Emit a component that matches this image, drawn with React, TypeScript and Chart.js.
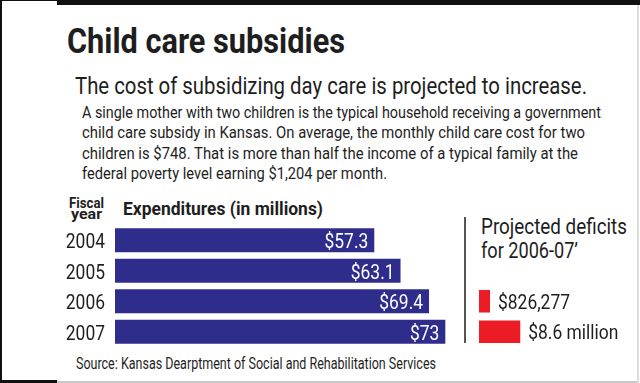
import React, { useEffect, useLayoutEffect, useRef } from "react";
import { Chart, registerables } from "chart.js";

Chart.register(...registerables);

const years = ["2004", "2005", "2006", "2007"];
const expenditures = [57.3, 63.1, 69.4, 73];
const expenditureLabels = ["$57.3", "$63.1", "$69.4", "$73"];

const deficitCategories = ["Low", "High"];
const deficits = [0.826277, 8.6];
const deficitLabels = ["$826,277", "$8.6 million"];

const FONT = 'Roboto, "Noto Sans", sans-serif';
const NAVY = "#2e2d8c";
const RED = "#ec1c24";
const INK = "#1e1e1e";
const CONDENSE = 0.83;

function drawCondensed(ctx: any, s: string, x: number, y: number, align: string) {
  ctx.save();
  ctx.translate(x, y);
  ctx.scale(CONDENSE, 1);
  ctx.textAlign = align;
  ctx.textBaseline = "alphabetic";
  ctx.fillText(s, 0, 0);
  ctx.restore();
}

const expenditurePlugin = {
  id: "expenditureText",
  afterDatasetsDraw(chart: any) {
    const { ctx, chartArea } = chart;
    const meta = chart.getDatasetMeta(0);
    const yScale = chart.scales.y;
    ctx.save();
    ctx.font = `21px ${FONT}`;
    ctx.fillStyle = "#ffffff";
    meta.data.forEach((bar: any, i: number) => {
      drawCondensed(ctx, expenditureLabels[i], bar.x - 6, bar.y + 8, "right");
    });
    ctx.fillStyle = INK;
    yScale.ticks.forEach((_t: any, i: number) => {
      drawCondensed(ctx, String(chart.data.labels[i]), chartArea.left - 10, yScale.getPixelForTick(i) + 8, "right");
    });
    ctx.restore();
  },
};

const deficitPlugin = {
  id: "deficitText",
  afterDatasetsDraw(chart: any) {
    const { ctx } = chart;
    const meta = chart.getDatasetMeta(0);
    ctx.save();
    ctx.font = `21px ${FONT}`;
    ctx.fillStyle = INK;
    meta.data.forEach((bar: any, i: number) => {
      drawCondensed(ctx, deficitLabels[i], bar.x + 8, bar.y + 7.5, "left");
    });
    ctx.restore();
  },
};

function ExpenditureChart() {
  const ref = useRef<HTMLCanvasElement>(null);
  useEffect(() => {
    const chart = new Chart(ref.current!, {
      type: "bar",
      data: {
        labels: years,
        datasets: [
          {
            data: expenditures,
            backgroundColor: NAVY,
            categoryPercentage: 1,
            barPercentage: 0.79,
          },
        ],
      },
      options: {
        indexAxis: "y",
        animation: false,
        responsive: false,
        maintainAspectRatio: false,
        layout: { padding: 0 },
        plugins: { legend: { display: false }, tooltip: { enabled: false } },
        scales: {
          x: { display: false, min: 0, max: 80 },
          y: {
            afterFit: (s: any) => {
              s.width = 50;
              s.paddingTop = 0;
              s.paddingBottom = 0;
            },
            grid: { display: false, drawTicks: false },
            border: { display: false },
            ticks: { display: false },
          },
        },
      },
      plugins: [expenditurePlugin],
    });
    return () => chart.destroy();
  }, []);
  return (
    <canvas
      ref={ref}
      width={412}
      height={122}
      style={{ position: "absolute", left: 65, top: 225, width: 412, height: 122 }}
    />
  );
}

function DeficitChart() {
  const ref = useRef<HTMLCanvasElement>(null);
  useEffect(() => {
    const chart = new Chart(ref.current!, {
      type: "bar",
      data: {
        labels: deficitCategories,
        datasets: [
          {
            data: deficits,
            backgroundColor: RED,
            categoryPercentage: 1,
            barPercentage: 0.74,
            minBarLength: 11,
          },
        ],
      },
      options: {
        indexAxis: "y",
        animation: false,
        responsive: false,
        maintainAspectRatio: false,
        layout: { padding: { left: 0, right: 113, top: 0, bottom: 0 } },
        plugins: { legend: { display: false }, tooltip: { enabled: false } },
        scales: {
          x: { display: false, min: 0, max: 10 },
          y: { display: false },
        },
      },
      plugins: [deficitPlugin],
    });
    return () => chart.destroy();
  }, []);
  return (
    <canvas
      ref={ref}
      width={161}
      height={61}
      style={{ position: "absolute", left: 479, top: 286, width: 161, height: 61 }}
    />
  );
}

function Txt(props: {
  x: number;
  base: number;
  size: number;
  w: number;
  bold?: boolean;
  children: React.ReactNode;
}) {
  const ref = useRef<HTMLSpanElement>(null);
  useLayoutEffect(() => {
    const el = ref.current!;
    el.style.transform = "none";
    const natural = el.getBoundingClientRect().width;
    if (natural > 0) el.style.transform = `scaleX(${props.w / natural})`;
  }, [props.w]);
  return (
    <span
      ref={ref}
      style={{
        position: "absolute",
        left: props.x,
        top: props.base - 0.8415 * props.size,
        fontSize: props.size,
        lineHeight: 1,
        fontFamily: FONT,
        fontWeight: props.bold ? 700 : 400,
        color: INK,
        whiteSpace: "nowrap",
        display: "inline-block",
        transformOrigin: "0 0",
      }}
    >
      {props.children}
    </span>
  );
}

export default function App() {
  useLayoutEffect(() => {
    document.body.style.margin = "0";
  }, []);
  return (
    <div
      style={{
        position: "fixed",
        left: 0,
        top: 0,
        width: 640,
        height: 383,
        background: "#fff",
        overflow: "hidden",
      }}
    >
      {/* frame */}
      <div style={{ position: "absolute", left: 0, top: 0, width: 2, height: 383, background: "#111" }} />
      <div style={{ position: "absolute", left: 0, top: 0, width: 57, height: 1, background: "#111" }} />
      <div style={{ position: "absolute", left: 57, top: 0, width: 583, height: 5, background: "#111" }} />
      <div style={{ position: "absolute", left: 0, top: 380, width: 57, height: 3, background: "#111" }} />
      <div style={{ position: "absolute", left: 57, top: 381, width: 581, height: 2, background: "#c8c8c8" }} />
      <div style={{ position: "absolute", left: 637, top: 5, width: 2, height: 378, background: "#dcdcdc" }} />

      <Txt x={67} base={53} size={35} w={278} bold>
        Child care subsidies
      </Txt>
      <Txt x={75} base={94} size={24} w={512}>
        The cost of subsidizing day care is projected to increase.
      </Txt>

      <Txt x={82} base={118} size={17} w={519}>
        A single mother with two children is the typical household receiving a government
      </Txt>
      <Txt x={82} base={138.5} size={17} w={503}>
        child care subsidy in Kansas. On average, the monthly child care cost for two
      </Txt>
      <Txt x={82} base={159} size={17} w={496}>
        children is $748. That is more than half the income of a typical family at the
      </Txt>
      <Txt x={82} base={179.5} size={17} w={305}>
        federal poverty level earning $1,204 per month.
      </Txt>

      <Txt x={69} base={208} size={14} w={35} bold>
        Fiscal
      </Txt>
      <Txt x={71} base={218.5} size={14} w={31} bold>
        year
      </Txt>
      <Txt x={123} base={215} size={18} w={200} bold>
        Expenditures (in millions)
      </Txt>

      <ExpenditureChart />

      <div style={{ position: "absolute", left: 464, top: 217, width: 2, height: 126, background: "#555" }} />
      <Txt x={481} base={235} size={22} w={146}>
        Projected deficits
      </Txt>
      <Txt x={481} base={259} size={22} w={97}>
        for 2006-07{"\u2019"}
      </Txt>

      <DeficitChart />

      <Txt x={76} base={369} size={17} w={360}>
        Source: Kansas Dearptment of Social and Rehabilitation Services
      </Txt>
    </div>
  );
}
